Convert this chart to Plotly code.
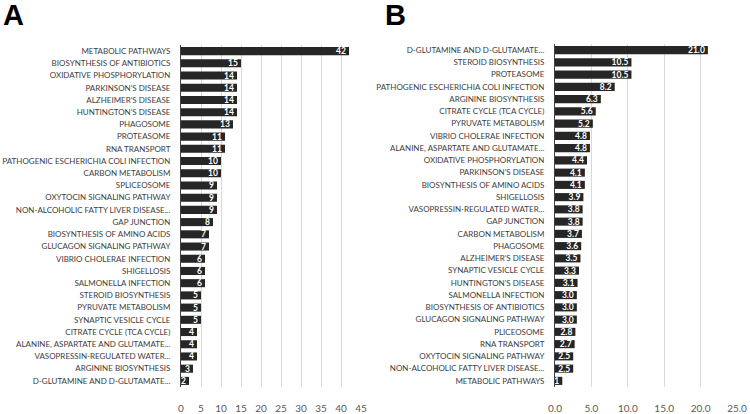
import plotly.graph_objects as go

a_categories = [
    "METABOLIC PATHWAYS", "BIOSYNTHESIS OF ANTIBIOTICS", "OXIDATIVE PHOSPHORYLATION",
    "PARKINSON'S DISEASE", "ALZHEIMER'S DISEASE", "HUNTINGTON'S DISEASE", "PHAGOSOME",
    "PROTEASOME", "RNA TRANSPORT", "PATHOGENIC ESCHERICHIA COLI INFECTION",
    "CARBON METABOLISM", "SPLICEOSOME", "OXYTOCIN SIGNALING PATHWAY",
    "NON-ALCOHOLIC FATTY LIVER DISEASE...", "GAP JUNCTION", "BIOSYNTHESIS OF AMINO ACIDS",
    "GLUCAGON SIGNALING PATHWAY", "VIBRIO CHOLERAE INFECTION", "SHIGELLOSIS",
    "SALMONELLA INFECTION", "STEROID BIOSYNTHESIS", "PYRUVATE METABOLISM",
    "SYNAPTIC VESICLE CYCLE", "CITRATE CYCLE (TCA CYCLE)",
    "ALANINE, ASPARTATE AND GLUTAMATE...", "VASOPRESSIN-REGULATED WATER...",
    "ARGININE BIOSYNTHESIS", "D-GLUTAMINE AND D-GLUTAMATE...",
]
a_values = [42, 15, 14, 14, 14, 14, 13, 11, 11, 10, 10, 9, 9, 9, 8, 7, 7, 6, 6, 6,
            5, 5, 5, 4, 4, 4, 3, 2]
a_text = [str(v) for v in a_values]

b_categories = [
    "D-GLUTAMINE AND D-GLUTAMATE...", "STEROID BIOSYNTHESIS", "PROTEASOME",
    "PATHOGENIC ESCHERICHIA COLI INFECTION", "ARGININE BIOSYNTHESIS",
    "CITRATE CYCLE (TCA CYCLE)", "PYRUVATE METABOLISM", "VIBRIO CHOLERAE INFECTION",
    "ALANINE, ASPARTATE AND GLUTAMATE...", "OXIDATIVE PHOSPHORYLATION",
    "PARKINSON'S DISEASE", "BIOSYNTHESIS OF AMINO ACIDS", "SHIGELLOSIS",
    "VASOPRESSIN-REGULATED WATER...", "GAP JUNCTION", "CARBON METABOLISM", "PHAGOSOME",
    "ALZHEIMER'S DISEASE", "SYNAPTIC VESICLE CYCLE", "HUNTINGTON'S DISEASE",
    "SALMONELLA INFECTION", "BIOSYNTHESIS OF ANTIBIOTICS", "GLUCAGON SIGNALING PATHWAY",
    "PLICEOSOME", "RNA TRANSPORT", "OXYTOCIN SIGNALING PATHWAY",
    "NON-ALCOHOLIC FATTY LIVER DISEASE...", "METABOLIC PATHWAYS",
]
b_values = [21.0, 10.5, 10.5, 8.2, 6.3, 5.6, 5.2, 4.8, 4.8, 4.4, 4.1, 4.1, 3.9, 3.8,
            3.8, 3.7, 3.6, 3.5, 3.3, 3.1, 3.0, 3.0, 3.0, 2.8, 2.7, 2.5, 2.5, 1.0]
b_text = ["21.0", "10.5", "10.5", "8.2", "6.3", "5.6", "5.2", "4.8", "4.8", "4.4", "4.1",
          "4.1", "3.9", "3.8", "3.8", "3.7", "3.6", "3.5", "3.3", "3.1", "3.0", "3.0",
          "3.0", "2.8", "2.7", "2.5", "2.5", "1"]

a_ticks = [0, 5, 10, 15, 20, 25, 30, 35, 40, 45]
b_ticks = [0, 5, 10, 15, 20, 25]
b_ticktext = ["0.0", "5.0", "10.0", "15.0", "20.0", "25.0"]

FONT = "Lato"
BAR = "#262626"
GRID = "#d9d9d9"
LBL = "#404040"

W, H = 750, 414
def fx(p):
    return p / W
def fy(p):
    return 1 - p / H

fig = go.Figure()
for xs, ys, tx, xa, ya in [(a_values, a_categories, a_text, "x", "y"),
                           (b_values, b_categories, b_text, "x2", "y2")]:
    fig.add_trace(go.Bar(
        x=xs, y=ys, orientation="h", xaxis=xa, yaxis=ya,
        marker=dict(color=BAR, line=dict(width=0)), text=tx,
        texttemplate="<b>%{text}</b>",
        textposition="inside", insidetextanchor="end", textangle=0,
        textfont=dict(color="white", size=8.5, family=FONT), width=0.66,
        cliponaxis=False, showlegend=False,
    ))

common_y = dict(autorange="reversed", categoryorder="array", showline=True,
                linecolor="#404040", linewidth=1, ticks="outside", ticklen=8,
                tickcolor="rgba(0,0,0,0)", tickfont=dict(size=8.0, color=LBL),
                showgrid=False, automargin=False, fixedrange=True)
common_x = dict(showgrid=True, gridcolor=GRID, gridwidth=1, zeroline=False,
                showline=False, ticks="", tickfont=dict(size=10, color="#595959"),
                automargin=False, fixedrange=True, ticklabelstandoff=14,
                ticklabeloverflow="allow")

fig.update_layout(
    width=W, height=H, margin=dict(l=0, r=0, t=0, b=0),
    paper_bgcolor="white", plot_bgcolor="white",
    font=dict(family=FONT, size=9, color=LBL),
    uniformtext=dict(mode="show", minsize=8.5),
    xaxis=dict(domain=[fx(181), fx(361)], range=[0, 45], tickvals=a_ticks,
               anchor="y", **common_x),
    yaxis=dict(domain=[fy(387), fy(45)], categoryarray=a_categories, anchor="x",
               **common_y),
    xaxis2=dict(domain=[fx(555), fx(737)], range=[0, 25], tickvals=b_ticks,
                ticktext=b_ticktext, anchor="y2", **common_x),
    yaxis2=dict(domain=[fy(387), fy(44)], categoryarray=b_categories, anchor="x2",
                **common_y),
    annotations=[
        dict(text="<b>A</b>", x=fx(1), y=fy(15), xref="paper", yref="paper",
             xanchor="left", yanchor="middle", showarrow=False,
             font=dict(size=29, color="black", family="Liberation Sans")),
        dict(text="<b>B</b>", x=fx(383), y=fy(15), xref="paper", yref="paper",
             xanchor="left", yanchor="middle", showarrow=False,
             font=dict(size=29, color="black", family="Liberation Sans")),
    ],
)

fig.write_html(
    "out.html",
    config={"displayModeBar": False},
    post_script="document.body.style.margin='0';document.body.style.overflow='hidden';",
)
